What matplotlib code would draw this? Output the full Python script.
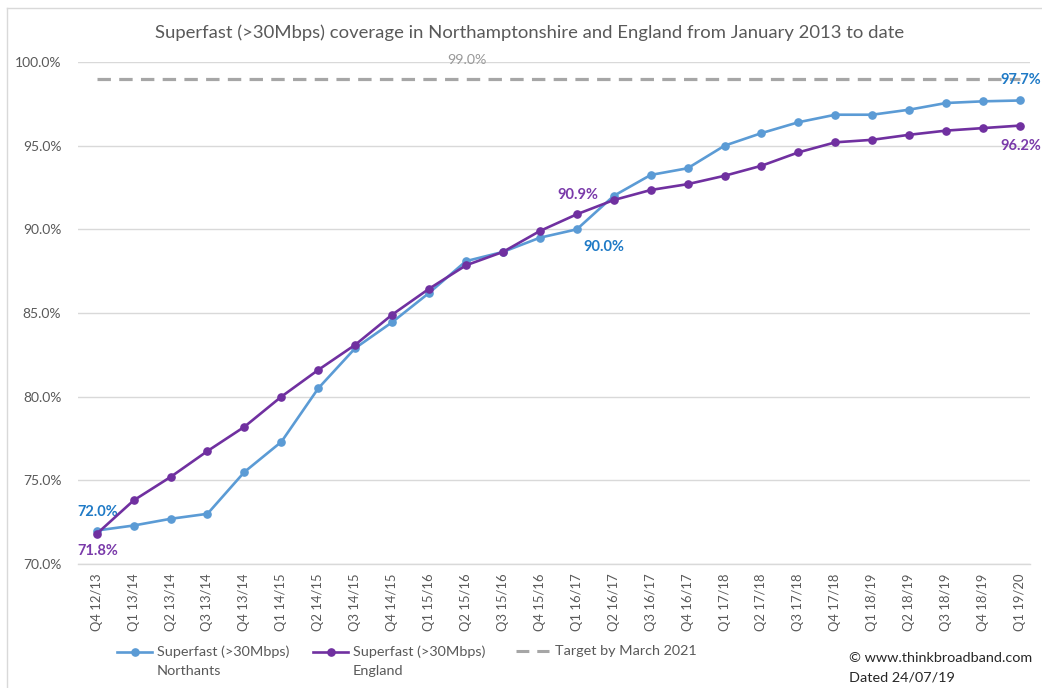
import matplotlib
matplotlib.use("Agg")
import matplotlib.pyplot as plt
from matplotlib.lines import Line2D
from matplotlib.ticker import FuncFormatter, MultipleLocator

plt.rcParams['font.family'] = ['Lato', 'DejaVu Sans']

quarters = ["Q4 12/13", "Q1 13/14", "Q2 13/14", "Q3 13/14", "Q4 13/14",
            "Q1 14/15", "Q2 14/15", "Q3 14/15", "Q4 14/15", "Q1 15/16",
            "Q2 15/16", "Q3 15/16", "Q4 15/16", "Q1 16/17", "Q2 16/17",
            "Q3 16/17", "Q4 16/17", "Q1 17/18", "Q2 17/18", "Q3 17/18",
            "Q4 17/18", "Q1 18/19", "Q2 18/19", "Q3 18/19", "Q4 18/19",
            "Q1 19/20"]
northants = [72.0, 72.3, 72.7, 73.0, 75.5, 77.3, 80.5, 82.9, 84.45, 86.2,
             88.1, 88.65, 89.5, 90.0, 92.0, 93.25, 93.65, 95.0, 95.75, 96.4,
             96.85, 96.85, 97.15, 97.55, 97.65, 97.7]
england = [71.8, 73.8, 75.2, 76.75, 78.2, 80.0, 81.6, 83.1, 84.9, 86.45,
           87.85, 88.65, 89.9, 90.9, 91.75, 92.35, 92.7, 93.2, 93.8, 94.6,
           95.2, 95.35, 95.65, 95.9, 96.05, 96.2]
target = [99.0] * len(quarters)

BLUE = "#5B9BD5"
PURPLE = "#7030A0"
BLUE_LBL = "#1F7AC6"
PURPLE_LBL = "#7A3AAA"
GREY = "#A6A6A6"
TXT = "#595959"

W, H = 1042, 688
fig = plt.figure(figsize=(W / 100, H / 100), dpi=100)

def fx(px):
    return px / W

def fy(py):
    return 1 - py / H

ax_l, ax_r, ax_t, ax_b = 78, 1030, 62, 564
ax = fig.add_axes([fx(ax_l), fy(ax_b), fx(ax_r - ax_l), (ax_b - ax_t) / H])

x = list(range(len(quarters)))
ax.plot(x, target, color=GREY, lw=2.3, linestyle=(0, (4.2, 2.6)), zorder=2)
ax.plot(x, northants, color=BLUE, lw=1.9, marker='o', markersize=5.2, zorder=3)
ax.plot(x, england, color=PURPLE, lw=1.9, marker='o', markersize=5.2, zorder=4)

ax.set_xlim(-0.506, 25.27)
ax.set_ylim(70, 100)
ax.yaxis.set_major_locator(MultipleLocator(5))
ax.yaxis.set_major_formatter(FuncFormatter(lambda v, p: f"{v:.1f}%"))
ax.set_xticks(x)
ax.set_xticklabels(quarters, rotation=90, fontsize=9.4, color=TXT)
ax.tick_params(axis='y', labelsize=10, colors=TXT, length=0, pad=12)
ax.tick_params(axis='x', length=0, pad=7)
ax.grid(axis='y', color="#D9D9D9", lw=1)
ax.set_axisbelow(True)
for s in ['top', 'right', 'left']:
    ax.spines[s].set_visible(False)
ax.spines['bottom'].set_color("#D9D9D9")
ax.spines['bottom'].set_linewidth(1)

# data labels
lbl = dict(fontsize=10.5, fontweight='bold', ha='center', va='center')
ax.annotate("72.0%", (0, northants[0]), xytext=(0.5, 13), textcoords='offset points', color=BLUE_LBL, **lbl)
ax.annotate("71.8%", (0, england[0]), xytext=(0.5, -12), textcoords='offset points', color=PURPLE_LBL, **lbl)
ax.annotate("90.9%", (13, england[13]), xytext=(0.5, 14), textcoords='offset points', color=PURPLE_LBL, **lbl)
ax.annotate("90.0%", (13, northants[13]), xytext=(19.5, -12.5), textcoords='offset points', color=BLUE_LBL, **lbl)
ax.annotate("97.7%", (25, northants[25]), xytext=(0.5, 14.5), textcoords='offset points', color=BLUE_LBL, **lbl)
ax.annotate("96.2%", (25, england[25]), xytext=(0.5, -15), textcoords='offset points', color=PURPLE_LBL, **lbl)
ax.annotate("99.0%", (10, target[10]), xytext=(0.5, 13.5), textcoords='offset points', color="#999999",
            fontsize=10.3, ha='center', va='center')

# title
fig.text(fx(530), fy(33), "Superfast (>30Mbps) coverage in Northamptonshire and England from January 2013 to date",
         ha='center', va='center', fontsize=13.3, color=TXT)

# outer border
fig.add_artist(Line2D([fx(7), fx(7)], [fy(8), 0], color="#D9D9D9", lw=1))
fig.add_artist(Line2D([fx(7), 1], [fy(8), fy(8)], color="#D9D9D9", lw=1))

# legend (manual)
def leg_line(x0, x1, y, color, marker=True, dashed=False):
    ls = (0, (4.2, 2.6)) if dashed else '-'
    fig.add_artist(Line2D([fx(x0), fx(x1)], [fy(y), fy(y)], color=color, lw=2.2 if dashed else 1.9,
                          linestyle=ls))
    if marker:
        fig.add_artist(Line2D([fx((x0 + x1) / 2)], [fy(y)], color=color, marker='o', markersize=5.2))

LF = 10.4
leg_line(117, 152, 652, BLUE)
fig.text(fx(157), fy(652), "Superfast (>30Mbps)", ha='left', va='center', fontsize=LF, color=TXT)
fig.text(fx(157), fy(671), "Northants", ha='left', va='center', fontsize=LF, color=TXT)
leg_line(313, 348, 652, PURPLE)
fig.text(fx(353), fy(652), "Superfast (>30Mbps)", ha='left', va='center', fontsize=LF, color=TXT)
fig.text(fx(353), fy(671), "England", ha='left', va='center', fontsize=LF, color=TXT)
leg_line(516, 549, 651, GREY, marker=False, dashed=True)
fig.text(fx(555), fy(651), "Target by March 2021", ha='left', va='center', fontsize=LF, color=TXT)

fig.text(fx(849), fy(658), "\u00a9 www.thinkbroadband.com", ha='left', va='center', fontsize=LF, color="#262626")
fig.text(fx(849), fy(677), "Dated 24/07/19", ha='left', va='center', fontsize=LF, color="#262626")

fig.savefig("out.png", dpi=100, facecolor='white')
